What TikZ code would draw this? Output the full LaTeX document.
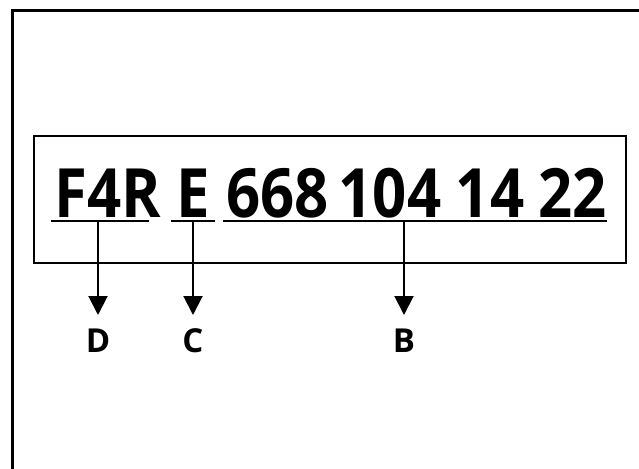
\documentclass[tikz,border=0pt]{standalone}
\usepackage{fontspec}
\usepackage{graphicx}
\setmainfont{Open Sans}
\usetikzlibrary{arrows.meta}
% narrow the bold code digits a little
\newcommand{\narrowcode}[1]{\scalebox{0.88}[1]{#1}}
\tikzset{
  code/.style={font=\fontsize{68}{68}\selectfont\bfseries, inner sep=0pt, anchor=base},
  tag/.style={font=\fontsize{33}{33}\selectfont\bfseries, inner sep=0pt, anchor=base},
  uline/.style={line width=2.5pt},
  pointer/.style={line width=2pt, -{Triangle[width=19pt,length=19pt]}},
}
\begin{document}
\begin{tikzpicture}[x=1pt,y=-1pt]
\useasboundingbox (0,0) rectangle (639,468);
% outer frame, open to the right and bottom
\draw[line width=3pt] (12,475) -- (12,11) -- (645,11);
% plate frame
\draw[line width=2pt] (34,136) rectangle (626,263);
% code groups
\node[code] (g1) at (107.5,217) {\narrowcode{F4R}};
\node[code] (g2) at (193.5,217) {\narrowcode{E}};
\node[code] (g3) at (277.5,217) {\narrowcode{668}};
\node[code] (g4) at (390,217) {\narrowcode{104}};
\node[code] (g5) at (490,217) {\narrowcode{14}};
\node[code] (g6) at (572.5,217) {\narrowcode{22}};
% underlines
\coordinate (u1a) at (51,221);  \coordinate (u1b) at (149,221);
\coordinate (u2a) at (171,221); \coordinate (u2b) at (215,221);
\coordinate (u3a) at (223,221); \coordinate (u3b) at (607,221);
\draw[uline] (u1a) -- (u1b);
\draw[uline] (u2a) -- (u2b);
\draw[uline] (u3a) -- (u3b);
% pointers
\coordinate (dU) at (98,221);  \coordinate (dT) at (98,315);
\coordinate (cU) at (193,221); \coordinate (cT) at (193,315);
\coordinate (bU) at (404,221); \coordinate (bT) at (404,315);
\draw[pointer] (dU) -- (dT);
\draw[pointer] (cU) -- (cT);
\draw[pointer] (bU) -- (bT);
% labels
\node[tag] (D) at (98,352) {D};
\node[tag] (C) at (193,352) {C};
\node[tag] (B) at (404,352) {B};
\end{tikzpicture}
\end{document}
